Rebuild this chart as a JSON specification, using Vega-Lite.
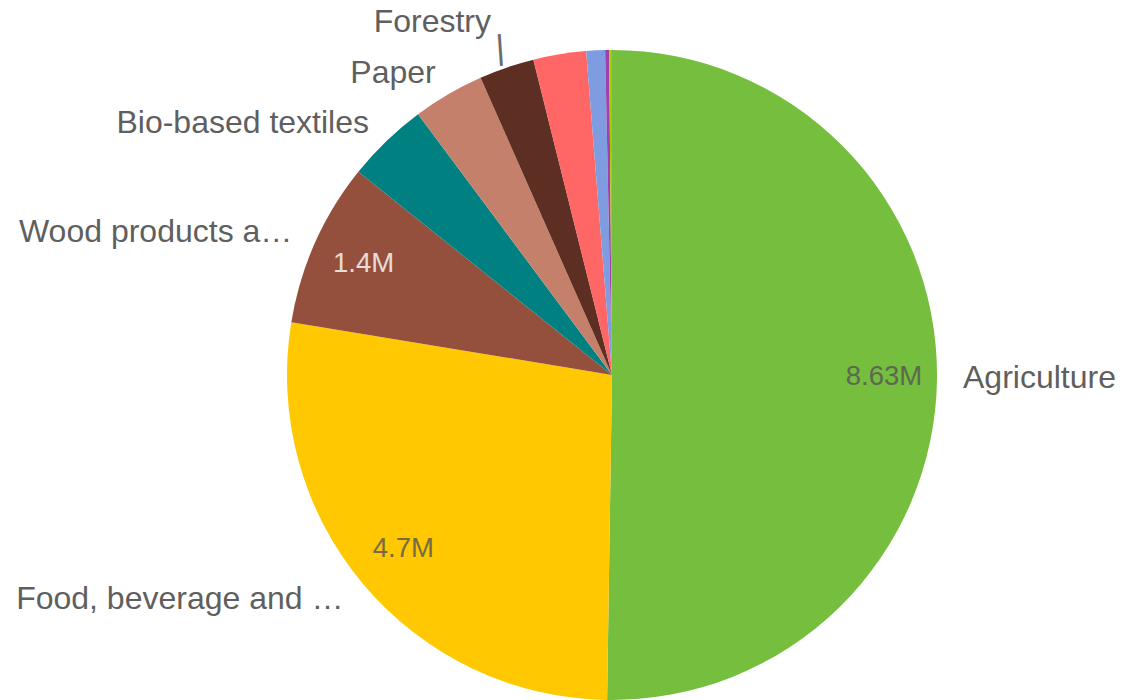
{
  "$schema": "https://vega.github.io/schema/vega-lite/v6.json",
  "width": 1020,
  "height": 650,
  "padding": {"left": 102, "top": 50, "right": 0, "bottom": 0},
  "autosize": {"type": "none"},
  "background": "white",
  "config": {"view": {"stroke": null}, "text": {"font": "Liberation Sans"}},
  "data": {
    "values": [
      {"Category": "Agriculture", "Label": "Agriculture", "Value": 8630000},
      {"Category": "Food, beverage and tobacco", "Label": "Food, beverage and …", "Value": 4700000},
      {"Category": "Wood products and furniture", "Label": "Wood products a…", "Value": 1400000},
      {"Category": "Bio-based textiles", "Label": "Bio-based textiles", "Value": 700000},
      {"Category": "Paper", "Label": "Paper", "Value": 610000},
      {"Category": "Forestry", "Label": "Forestry", "Value": 470000},
      {"Category": "Bio-based chemicals, pharmaceuticals, plastics and rubber", "Label": "", "Value": 450000},
      {"Category": "Fishing", "Label": "", "Value": 160000},
      {"Category": "Aquaculture", "Label": "", "Value": 34000},
      {"Category": "Bioenergy", "Label": "", "Value": 24000}
    ]
  },
  "encoding": {
    "theta": {"field": "Value", "type": "quantitative", "stack": true},
    "order": {"field": "Value", "type": "quantitative", "sort": "descending"}
  },
  "layer": [
    {
      "mark": {"type": "arc"},
      "encoding": {
        "color": {
          "field": "Category",
          "type": "nominal",
          "legend": null,
          "scale": {
            "domain": ["Agriculture", "Food, beverage and tobacco", "Wood products and furniture", "Bio-based textiles", "Paper", "Forestry", "Bio-based chemicals, pharmaceuticals, plastics and rubber", "Fishing", "Aquaculture", "Bioenergy"],
            "range": ["#76BE3E", "#FFC800", "#94503C", "#008080", "#C4806A", "#5C2F22", "#FF6666", "#7F9CE0", "#A040B0", "#A8C800"]
          }
        }
      }
    },
    {
      "mark": {"type": "text", "radius": 272, "fontSize": 27.5, "align": "center", "baseline": "middle", "opacity": 0.8},
      "encoding": {
        "text": {"condition": {"test": "datum.Value >= 1000000", "field": "Value", "type": "quantitative", "format": ".3~s"}, "value": ""},
        "color": {"condition": {"test": "datum.Category === 'Wood products and furniture'", "value": "#FFFFFF"}, "value": "#555555"}
      }
    },
    {
      "mark": {"type": "text", "radius": 351, "fontSize": 32, "align": "left", "baseline": "middle", "color": "#5F5F5F"},
      "encoding": {
        "text": {"condition": {"test": "datum.Category === 'Agriculture'", "field": "Label"}, "value": ""}
      }
    },
    {
      "mark": {"type": "text", "radius": 350, "fontSize": 32, "align": "right", "baseline": "middle", "color": "#5F5F5F"},
      "encoding": {
        "text": {"condition": {"test": "datum.Category !== 'Agriculture' && datum.Category !== 'Forestry'", "field": "Label"}, "value": ""}
      }
    },
    {
      "mark": {"type": "text", "radius": 373, "fontSize": 32, "align": "right", "baseline": "middle", "color": "#5F5F5F"},
      "encoding": {
        "text": {"condition": {"test": "datum.Category === 'Forestry'", "field": "Label"}, "value": ""}
      }
    },
    {
      "mark": {"type": "text", "radius": 345, "fontSize": 34, "align": "center", "baseline": "middle", "color": "#6A6A6A", "angle": 356},
      "encoding": {
        "text": {"condition": {"test": "datum.Category === 'Forestry'", "value": "|"}, "value": ""}
      }
    }
  ]
}
